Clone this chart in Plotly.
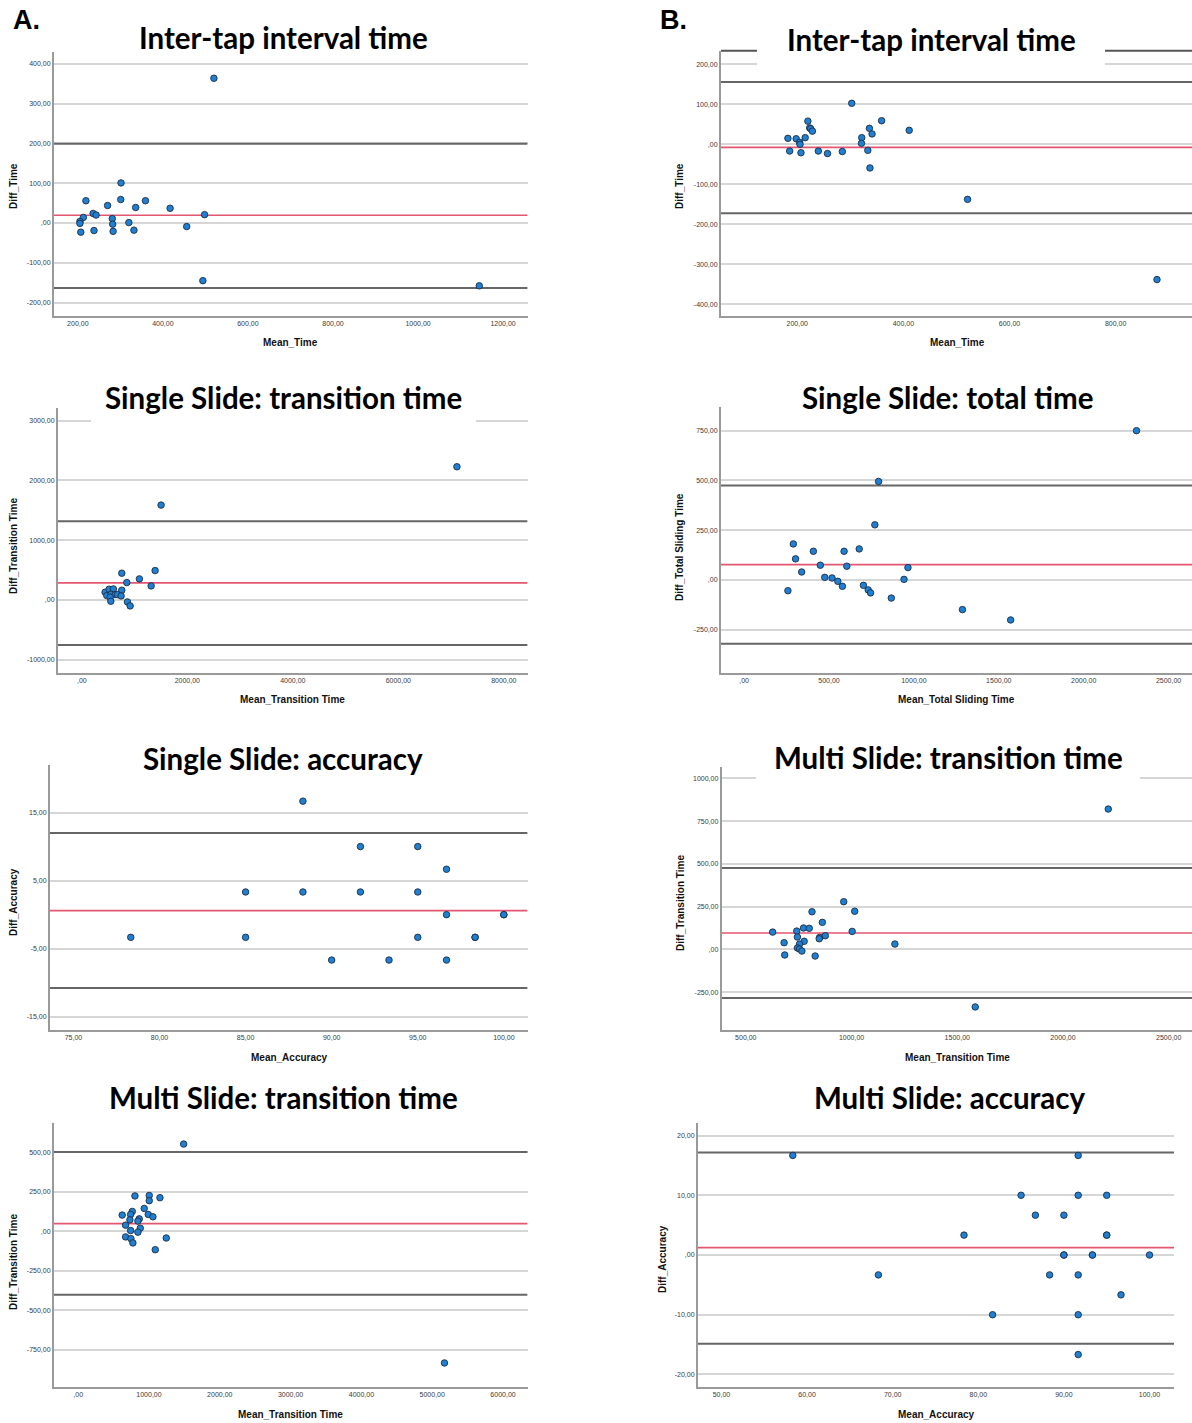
import plotly.graph_objects as go

W, H = 1192, 1423

# ---------------- data ----------------
# A1: Inter-tap interval time
a1_mean = [301.6, 219, 270, 301, 336, 359, 417, 213, 236, 243, 205, 205, 281, 282, 320, 207, 238, 283, 332,
           456, 494, 498, 520, 1144]
a1_diff = [100.8, 56, 44, 59, 39, 56, 37, 14, 24, 20, 4, -1, 11, -3, 1, -23, -19, -21, -18,
           -9, -145, 21, 364, -158]
a1_stats = [19.3, 199.5, -163.5]  # bias, upper LoA, lower LoA

# B1: Inter-tap interval time
b1_mean = [182.4, 185.7, 198, 204.5, 205.2, 207, 215, 220, 223.4, 225.4, 228.6, 239.7, 257, 285, 302.7,
           321.6, 321, 333, 336, 341, 337, 359, 411, 521, 878]
b1_diff = [15, -16.7, 14, 5, 0, -21, 16.7, 58, 41, 39, 33, -16.7, -23, -18, 102.5,
           16.7, 2.5, -15, 40, 26, -59, 59, 35, -137.5, -338]
b1_stats = [-7.5, 156, -172]

# A2: Single Slide transition time
a2_mean = [758, 853, 1092, 1390, 1314, 442, 518, 599, 758, 474, 556, 631, 675, 745, 537, 550, 865, 916,
           1503, 7111]
a2_diff = [447, 290, 352, 491, 235, 129, 179, 184, 162, 72, 95, 89, 89, 67, 45, -22, -34, -100,
           1587, 2229]
a2_stats = [285, 1318, -754]

# B2: Single Slide total time
b2_mean = [258, 290, 303, 339, 408, 449, 475, 518, 552, 579, 589, 605, 678, 703, 731, 745, 770, 792,
           867, 942, 965, 1286, 1570, 2311]
b2_diff = [-54, 181, 106, 40, 144, 74, 13, 10, -7, -32, 144, 69, 156, -27, -50, -65, 277, 495,
           -91, 3, 62, -149, -201, 750]
b2_stats = [77, 475, -320]

# A3: Single Slide accuracy
a3_mean = [78.33, 85.0, 85.0, 88.33, 88.33, 90.0, 91.67, 91.67, 93.33, 95.0, 95.0, 95.0, 96.67, 96.67,
           96.67, 98.33, 98.33, 100.0, 100.0]
a3_diff = [-3.33, 3.33, -3.33, 16.67, 3.33, -6.67, 10.0, 3.33, -6.67, 10.0, 3.33, -3.33, 6.67, 0.0,
           -6.67, -3.33, -3.33, 0.0, 0.0]
a3_stats = [0.59, 12.0, -10.77]

# B3: Multi Slide transition time
b3_mean = [963, 813, 1015, 862, 773, 800, 627, 741, 1003, 744, 776, 849, 847, 876, 681, 754, 744, 754,
           765, 684, 828, 1205, 1585, 2214]
b3_diff = [279, 220, 223, 158, 125, 123, 101, 107, 105, 72, 47, 70, 62, 80, 39, 31, 8, 2,
           -10, -33, -39, 31, -337, 821]
b3_stats = [95.5, 476, -285]

# A4: Multi Slide transition time
a4_mean = [802, 1004, 1004, 1155, 933, 764, 741, 622, 990, 1056, 731, 863, 844, 670, 741, 877, 844, 670,
           745, 773, 1244, 1089, 1490, 5173]
a4_diff = [223, 226, 193, 212, 144, 125, 106, 102, 106, 91, 72, 78, 64, 38, 4, 19, -6, -36,
           -47, -74, -43, -117, 551, -833]
a4_stats = [48, 501, -402]

# B4: Multi Slide accuracy
b4_mean = [58.33, 68.33, 78.33, 81.67, 85.0, 86.67, 88.33, 90.0, 90.0, 90.0, 91.67, 91.67, 91.67, 91.67,
           91.67, 93.33, 93.33, 95.0, 95.0, 95.0, 96.67, 100.0]
b4_diff = [16.67, -3.33, 3.33, -10.0, 10.0, 6.67, -3.33, 6.67, 0.0, 0.0, 16.67, 10.0, -3.33, -10.0,
           -16.67, 0.0, 0.0, 10.0, 3.33, 3.33, -6.67, 0.0]
b4_stats = [1.23, 17.15, -14.86]

titles = ["Inter-tap interval time", "Inter-tap interval time",
          "Single Slide: transition time", "Single Slide: total time",
          "Single Slide: accuracy", "Multi Slide: transition time",
          "Multi Slide: transition time", "Multi Slide: accuracy"]
x_titles = ["Mean_Time", "Mean_Time", "Mean_Transition Time", "Mean_Total Sliding Time",
            "Mean_Accuracy", "Mean_Transition Time", "Mean_Transition Time", "Mean_Accuracy"]
y_titles = ["Diff_Time", "Diff_Time", "Diff_Transition Time", "Diff_Total Sliding Time",
            "Diff_Accuracy", "Diff_Transition Time", "Diff_Transition Time", "Diff_Accuracy"]

x_ticks = [[200, 400, 600, 800, 1000, 1200], [200, 400, 600, 800],
           [0, 2000, 4000, 6000, 8000], [0, 500, 1000, 1500, 2000, 2500],
           [75, 80, 85, 90, 95, 100], [500, 1000, 1500, 2000, 2500],
           [0, 1000, 2000, 3000, 4000, 5000, 6000], [50, 60, 70, 80, 90, 100]]
y_ticks = [[-200, -100, 0, 100, 200, 300, 400], [-400, -300, -200, -100, 0, 100, 200],
           [-1000, 0, 1000, 2000, 3000], [-250, 0, 250, 500, 750],
           [-15, -5, 5, 15], [-250, 0, 250, 500, 750, 1000],
           [-750, -500, -250, 0, 250, 500], [-20, -10, 0, 10, 20]]

means = [a1_mean, b1_mean, a2_mean, b2_mean, a3_mean, b3_mean, a4_mean, b4_mean]
diffs = [a1_diff, b1_diff, a2_diff, b2_diff, a3_diff, b3_diff, a4_diff, b4_diff]
stats = [a1_stats, b1_stats, a2_stats, b2_stats, a3_stats, b3_stats, a4_stats, b4_stats]

# ---------------- layout (pixel geometry) ----------------
boxes = [(54, 527.6, 51.7, 316), (721, 1192, 50.7, 316),
         (58, 527.6, 408, 672.7), (721, 1192, 407, 672.7),
         (50, 527.6, 765, 1030), (721.7, 1192, 766.7, 1030),
         (54, 527.6, 1122.7, 1387), (698, 1174, 1123, 1387)]
x_ranges = [(144, 1257.6), (56.3, 944), (-451, 8451), (-136, 2638),
            (73.64, 101.38), (386, 2610), (-341, 6347), (47.26, 102.86)]
y_ranges = [(-233.9, 430.8), (-429, 234), (-1218, 3212), (-466, 869),
            (-16.94, 21.98), (-472, 1069), (-985, 686), (-22.1, 22.1)]
title_pos = [(283, 38), (931, 39), (283, 397), (948, 397), (283, 758), (948, 757), (283, 1097), (950, 1097)]
xt_pos = [(290, 342), (957, 342), (292, 699), (956, 699), (289, 1057), (957, 1057), (290, 1414), (936, 1414)]
yt_pos = [(14, 186), (680, 186), (13, 546), (680, 547), (13, 902), (680, 903), (13, 1262), (662, 1259)]


def px(x):
    return x / W


def py(y):
    return 1 - y / H


def fmt(v):
    if v == 0:
        return ",00"
    return f"{v:.2f}".replace(".", ",")


GRID = "#d6d6d6"
AXIS = "#9a9a9a"
LOA = "#666666"
BIAS = "#e4566f"
TICKFONT = dict(family="Liberation Sans, Arial, sans-serif", size=7, color="#3a3a3a")
LABFONT = dict(family="Liberation Sans, Arial, sans-serif", size=10, color="#111111")

fig = go.Figure()
shapes = []
annotations = []
layout_axes = {}

for i in range(8):
    n = "" if i == 0 else str(i + 1)
    xa, ya = "x" + n, "y" + n
    l, r, t, b = boxes[i]
    x0, x1 = x_ranges[i]
    bias, up, lo = stats[i]
    # limits of agreement and mean difference (drawn as traces so they sit above gridlines)
    for val, col, wd in [(up, LOA, 2), (lo, LOA, 2), (bias, BIAS, 1.6)]:
        fig.add_trace(go.Scatter(x=[x0, x1], y=[val, val], mode="lines", xaxis=xa, yaxis=ya,
                                 line=dict(color=col, width=wd), hoverinfo="skip", showlegend=False))
    fig.add_trace(go.Scatter(
        x=means[i], y=diffs[i], mode="markers", xaxis=xa, yaxis=ya, showlegend=False,
        marker=dict(size=6.5, color="#1f7fd2", line=dict(width=0.9, color="#1d2e44")),
        cliponaxis=False))
    layout_axes["xaxis" + n] = dict(
        domain=[px(l), px(r)], range=list(x_ranges[i]), anchor=ya,
        showgrid=False, zeroline=False, showline=True, linecolor=AXIS, linewidth=2,
        tickmode="array", tickvals=x_ticks[i], ticktext=[fmt(v) for v in x_ticks[i]],
        ticks="", tickfont=TICKFONT)
    layout_axes["yaxis" + n] = dict(
        domain=[py(b), py(t)], range=list(y_ranges[i]), anchor=xa,
        showgrid=True, gridcolor=GRID, gridwidth=2, zeroline=False,
        showline=True, linecolor=AXIS, linewidth=2,
        tickmode="array", tickvals=y_ticks[i], ticktext=[fmt(v) for v in y_ticks[i]],
        ticks="", tickfont=TICKFONT)
    annotations.append(dict(text="<b>" + x_titles[i] + "</b>", x=px(xt_pos[i][0]), y=py(xt_pos[i][1]),
                            xref="paper", yref="paper", showarrow=False, xanchor="center", yanchor="middle",
                            font=LABFONT))
    annotations.append(dict(text="<b>" + y_titles[i] + "</b>", x=px(yt_pos[i][0]), y=py(yt_pos[i][1]),
                            xref="paper", yref="paper", showarrow=False, textangle=-90,
                            xanchor="center", yanchor="middle", font=LABFONT))

# top frame line of panel B1
shapes.append(dict(type="line", xref="paper", yref="paper", x0=px(721), x1=px(1192), y0=py(50.7), y1=py(50.7),
                   line=dict(color="#555555", width=2), layer="above"))
# white boxes behind some titles
for (l, r, t, b) in [(757, 1105, 18, 69), (91, 476, 376, 426), (756, 1140, 736, 782)]:
    shapes.append(dict(type="rect", xref="paper", yref="paper", x0=px(l), x1=px(r), y0=py(b), y1=py(t),
                       fillcolor="white", line=dict(width=0), layer="above"))

for i in range(8):
    annotations.append(dict(text="<b>" + titles[i] + "</b>", x=px(title_pos[i][0]), y=py(title_pos[i][1]),
                            xref="paper", yref="paper", showarrow=False, xanchor="center", yanchor="middle",
                            font=dict(family="Lato, sans-serif", size=29.5, color="#000000")))

for lab, x in [("A.", 26), ("B.", 673)]:
    annotations.append(dict(text="<b>" + lab + "</b>", x=px(x), y=py(20), xref="paper", yref="paper",
                            showarrow=False, xanchor="center", yanchor="middle",
                            font=dict(family="Liberation Sans, Arial, sans-serif", size=27, color="#000000")))

fig.update_layout(
    width=W, height=H, margin=dict(l=0, r=0, t=0, b=0),
    paper_bgcolor="white", plot_bgcolor="white",
    shapes=shapes, annotations=annotations, showlegend=False,
    **layout_axes)

fig.write_html("out.html")
